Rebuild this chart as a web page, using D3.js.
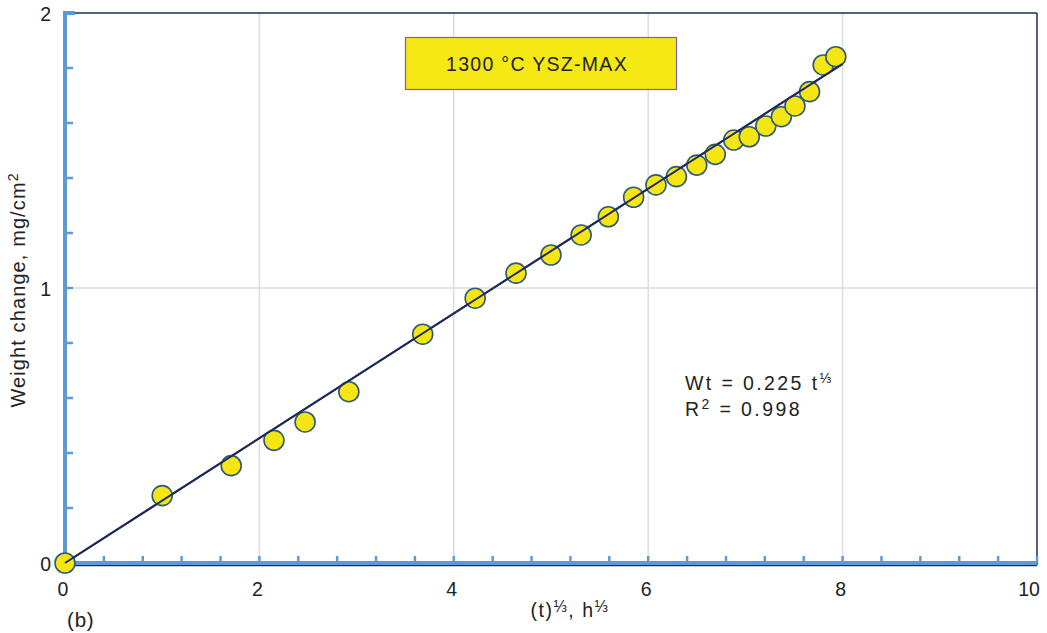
<!DOCTYPE html>
<html>
<head>
<meta charset="utf-8">
<script src="https://cdn.jsdelivr.net/npm/d3@7.9.0/dist/d3.min.js"></script>
<style>
  body { margin: 0; background: #fff; }
  svg { display: block; font-family: "Liberation Sans", Arial, sans-serif; }
</style>
</head>
<body>
<svg id="chart" width="1047" height="633"></svg>
<script>
// measured points, (t)^1/3 vs weight change
const xVals = [0, 1.00, 1.71, 2.15, 2.47, 2.92, 3.68, 4.22, 4.64, 5.00, 5.31, 5.59, 5.85,
  6.08, 6.29, 6.50, 6.69, 6.88, 7.04, 7.21, 7.37, 7.51, 7.66, 7.80, 7.93];
const yVals = [0, 0.245, 0.354, 0.446, 0.513, 0.623, 0.832, 0.963, 1.054, 1.120, 1.193, 1.259, 1.330,
  1.375, 1.405, 1.447, 1.486, 1.538, 1.550, 1.589, 1.623, 1.662, 1.714, 1.811, 1.841];
// fitted line end points
const fitX = [0, 8.0];
const fitY = [0, 1.815];
const xTicks = [0, 2, 4, 6, 8, 10];
const yTicks = [0, 1, 2];
const title = "1300 °C YSZ-MAX";

const svg = d3.select('#chart');
const x = d3.scaleLinear().domain([0, 10]).range([65, 1037]);
const y = d3.scaleLinear().domain([0, 2]).range([563, 13]);

// grid
svg.append('g').selectAll('line').data([2, 4, 6, 8]).join('line')
  .attr('x1', d => x(d)).attr('x2', d => x(d))
  .attr('y1', y(2)).attr('y2', y(0))
  .attr('stroke', '#dcdcdc').attr('stroke-width', 1.5);
svg.append('line')
  .attr('x1', x(0)).attr('x2', x(10))
  .attr('y1', y(1)).attr('y2', y(1))
  .attr('stroke', '#dcdcdc').attr('stroke-width', 1.5);

// frame: navy top / right / bottom
const navy = '#1f2a5c';
svg.append('line').attr('x1', x(0)).attr('x2', x(10)).attr('y1', y(2)).attr('y2', y(2))
  .attr('stroke', navy).attr('stroke-width', 1.5);
svg.append('line').attr('x1', x(10)).attr('x2', x(10)).attr('y1', y(2)).attr('y2', y(0) + 2)
  .attr('stroke', navy).attr('stroke-width', 1.5);
svg.append('line').attr('x1', x(0)).attr('x2', x(10)).attr('y1', y(0) + 2.5).attr('y2', y(0) + 2.5)
  .attr('stroke', navy).attr('stroke-width', 1.5);

// blue axes
const blue = '#5b9bd5';
svg.append('line').attr('x1', x(0)).attr('x2', x(0)).attr('y1', y(2)).attr('y2', y(0))
  .attr('stroke', blue).attr('stroke-width', 4);
svg.append('line').attr('x1', x(0) - 2).attr('x2', x(0) + 10).attr('y1', y(2)).attr('y2', y(2))
  .attr('stroke', blue).attr('stroke-width', 4);
svg.append('line').attr('x1', x(0)).attr('x2', x(10)).attr('y1', y(0)).attr('y2', y(0))
  .attr('stroke', blue).attr('stroke-width', 4);

// minor ticks
svg.append('g').selectAll('line').data(d3.range(1, 26).map(i => i * 0.4)).join('line')
  .attr('x1', d => x(d)).attr('x2', d => x(d))
  .attr('y1', y(0)).attr('y2', y(0) - 7)
  .attr('stroke', blue).attr('stroke-width', 2.5);
svg.append('g').selectAll('line').data(d3.range(1, 10).map(i => i * 0.2)).join('line')
  .attr('x1', x(0)).attr('x2', x(0) + 8)
  .attr('y1', d => y(d)).attr('y2', d => y(d))
  .attr('stroke', blue).attr('stroke-width', 2.5);

// tick labels
svg.append('g').selectAll('text').data(xTicks).join('text')
  .attr('x', d => x(d) - (d === 10 ? 8 : 2)).attr('y', 596)
  .attr('text-anchor', 'middle').attr('font-size', 19.5).attr('fill', '#222')
  .text(d => d);
svg.append('g').selectAll('text').data(yTicks).join('text')
  .attr('x', 51).attr('y', d => y(d) + 8)
  .attr('text-anchor', 'end').attr('font-size', 19.5).attr('fill', '#222')
  .text(d => d);

// axis titles
const xt = svg.append('text').attr('x', 570).attr('y', 617)
  .attr('text-anchor', 'middle').attr('font-size', 19.5).attr('fill', '#222')
  .attr('letter-spacing', 1.5);
xt.append('tspan').text('(t)');
xt.append('tspan').attr('font-size', 16).attr('dy', -5).text('⅓');
xt.append('tspan').attr('dy', 5).text(',  h');
xt.append('tspan').attr('font-size', 16).attr('dy', -5).text('⅓');

const yt = svg.append('text').attr('transform', 'translate(25,290) rotate(-90)')
  .attr('text-anchor', 'middle').attr('font-size', 20).attr('fill', '#222')
  .attr('letter-spacing', 1.1);
yt.append('tspan').text('Weight change, mg/cm');
yt.append('tspan').attr('font-size', 14).attr('dy', -7).text('2');

svg.append('text').attr('x', 67).attr('y', 627).attr('font-size', 20.5).attr('fill', '#222')
  .attr('letter-spacing', 0.8).text('(b)');

// fit line
svg.append('line')
  .attr('x1', x(fitX[0])).attr('y1', y(fitY[0]))
  .attr('x2', x(fitX[1])).attr('y2', y(fitY[1]))
  .attr('stroke', navy).attr('stroke-width', 2);

// points
svg.append('g').selectAll('circle').data(xVals.map((v, i) => [v, yVals[i]])).join('circle')
  .attr('cx', d => x(d[0])).attr('cy', d => y(d[1])).attr('r', 10)
  .attr('fill', '#f5e612').attr('stroke', '#2d5a78').attr('stroke-width', 1.6);
// redraw line over the points so it shows through like the reference
svg.append('line')
  .attr('x1', x(fitX[0])).attr('y1', y(fitY[0]))
  .attr('x2', x(fitX[1])).attr('y2', y(fitY[1]))
  .attr('stroke', navy).attr('stroke-width', 2);

// title box
svg.append('rect').attr('x', 405.5).attr('y', 37.5).attr('width', 271).attr('height', 52)
  .attr('fill', '#f5e814').attr('stroke', '#7a62a8').attr('stroke-width', 1.2);
svg.append('text').attr('x', 537).attr('y', 71).attr('text-anchor', 'middle')
  .attr('font-size', 19.5).attr('fill', '#222').attr('letter-spacing', 1.3).text(title);

// equation
const eq = svg.append('text').attr('x', 685).attr('y', 390)
  .attr('font-size', 19.5).attr('fill', '#222').attr('letter-spacing', 2.4);
eq.append('tspan').text('Wt = 0.225 t');
eq.append('tspan').attr('font-size', 14).attr('dy', -7).attr('letter-spacing', 0).text('⅓');
const r2 = svg.append('text').attr('x', 685).attr('y', 416)
  .attr('font-size', 19.5).attr('fill', '#222').attr('letter-spacing', 2.4);
r2.append('tspan').text('R');
r2.append('tspan').attr('font-size', 14).attr('dy', -7).text('2');
r2.append('tspan').attr('dy', 7).text(' = 0.998');
</script>
</body>
</html>
